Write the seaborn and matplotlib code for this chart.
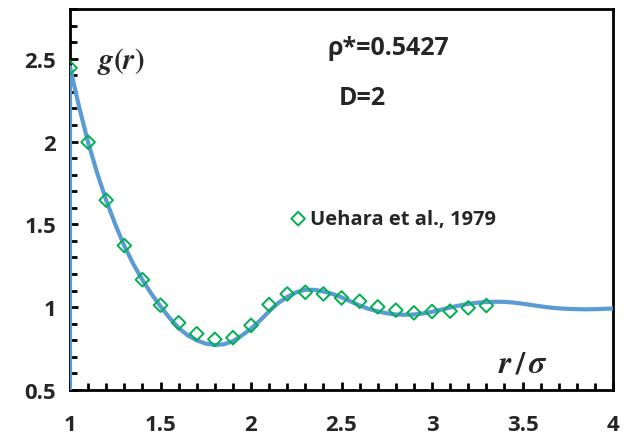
import numpy as np
import pandas as pd
import matplotlib
matplotlib.use("Agg")
import matplotlib.pyplot as plt
from matplotlib.ticker import MultipleLocator
import seaborn as sns

# Theoretical radial distribution function g(r), hard-disk fluid (D=2)
r_theory = [1.0, 1.0, 1.05, 1.1, 1.15, 1.2, 1.25, 1.3, 1.35, 1.4, 1.45, 1.5, 1.55, 1.6,
            1.65, 1.7, 1.75, 1.8, 1.85, 1.9, 1.95, 2.0, 2.05, 2.1, 2.15, 2.2, 2.25,
            2.3, 2.35, 2.4, 2.45, 2.5, 2.55, 2.6, 2.65, 2.7, 2.75, 2.8, 2.85, 2.9,
            2.95, 3.0, 3.05, 3.1, 3.15, 3.2, 3.25, 3.3, 3.35, 3.4, 3.45, 3.5, 3.55,
            3.6, 3.65, 3.7, 3.75, 3.8, 3.85, 3.9, 3.95, 4.0]
g_theory = [0.0, 2.45, 2.21, 1.995, 1.81, 1.645, 1.50, 1.37, 1.26, 1.165, 1.08, 1.005,
            0.935, 0.875, 0.83, 0.80, 0.78, 0.772, 0.776, 0.795, 0.83, 0.87, 0.92,
            0.975, 1.025, 1.062, 1.09, 1.105, 1.105, 1.095, 1.08, 1.06, 1.035, 1.01,
            0.99, 0.975, 0.963, 0.956, 0.954, 0.956, 0.962, 0.972, 0.985, 0.998,
            1.01, 1.02, 1.027, 1.031, 1.033, 1.032, 1.028, 1.021, 1.013, 1.005,
            0.998, 0.993, 0.99, 0.988, 0.987, 0.988, 0.99, 0.992]

# Simulation data, Uehara et al., 1979
r_sim = [1.0, 1.1, 1.2, 1.3, 1.4, 1.5, 1.6, 1.7, 1.8, 1.9, 2.0, 2.1, 2.2, 2.3, 2.4,
         2.5, 2.6, 2.7, 2.8, 2.9, 3.0, 3.1, 3.2, 3.3]
g_sim = [2.445, 1.996, 1.646, 1.372, 1.166, 1.012, 0.906, 0.84, 0.806, 0.816, 0.89,
         1.016, 1.08, 1.09, 1.08, 1.056, 1.036, 1.002, 0.982, 0.966, 0.974, 0.976,
         0.996, 1.01]

x_ticks = [1, 1.5, 2, 2.5, 3, 3.5, 4]
x_tick_labels = ["1", "1.5", "2", "2.5", "3", "3.5", "4"]
y_ticks = [0.5, 1, 1.5, 2, 2.5]
y_tick_labels = ["0.5", "1", "1.5", "2", "2.5"]

theory = pd.DataFrame({"r": r_theory, "g": g_theory})
sim = pd.DataFrame({"r": r_sim, "g": g_sim})

sns.set_theme(style="white")
plt.rcParams["font.family"] = ["Open Sans", "DejaVu Sans"]
plt.rcParams["font.weight"] = "bold"
plt.rcParams["mathtext.fontset"] = "stix"

fig = plt.figure(figsize=(6.29, 4.35), dpi=100)
ax = fig.add_axes([0.1113, 0.1011, 0.8633, 0.8759])

blue = "#5B9BD5"
green = "#00B050"

sns.lineplot(data=theory, x="r", y="g", ax=ax, color=blue, lw=3.0,
             sort=False, estimator=None, zorder=3)
sns.scatterplot(data=sim, x="r", y="g", ax=ax, marker="D", s=48,
                facecolor="none", edgecolor=green, linewidth=1.4, zorder=4,
                label="Uehara et al., 1979")

ax.set_xlim(1, 4)
ax.set_ylim(0.5, 2.8)
ax.set_xlabel("")
ax.set_ylabel("")

ax.set_xticks(x_ticks)
ax.set_xticklabels(x_tick_labels)
ax.set_yticks(y_ticks)
ax.set_yticklabels(y_tick_labels)
ax.xaxis.set_minor_locator(MultipleLocator(0.1))
ax.yaxis.set_minor_locator(MultipleLocator(0.1))

for side in ["left", "right", "top", "bottom"]:
    ax.spines[side].set_visible(True)
    ax.spines[side].set_color("black")
    ax.spines[side].set_linewidth(2.0)

ax.tick_params(axis="both", which="both", direction="in", color="black",
               width=2.0, labelsize=16, bottom=True, left=True)
ax.tick_params(axis="both", which="major", length=6)
ax.tick_params(axis="both", which="minor", length=5)
ax.tick_params(axis="x", which="major", pad=17.5)
ax.tick_params(axis="y", which="major", pad=10)
for lab in ax.get_xticklabels() + ax.get_yticklabels():
    lab.set_fontweight("bold")

ax.text(1.28, 2.49, r"$g(r)$", fontsize=21, ha="center", va="center")
ax.text(2.425, 2.565, "ρ*=0.5427", fontsize=18, fontweight="bold",
        ha="left", va="center")
ax.text(2.486, 2.264, "D=2", fontsize=18, fontweight="bold",
        ha="left", va="center")
ax.text(3.5, 0.665, r"$r\,/\,\sigma$", fontsize=23, ha="center", va="center")

leg = ax.legend(loc="center left", bbox_to_anchor=(0.383, 0.449), frameon=False,
                handletextpad=0.1, borderpad=0, handlelength=1.0,
                prop={"family": ["Open Sans", "DejaVu Sans"], "weight": "bold",
                      "size": 14.5})

fig.savefig("out.png", dpi=100)
